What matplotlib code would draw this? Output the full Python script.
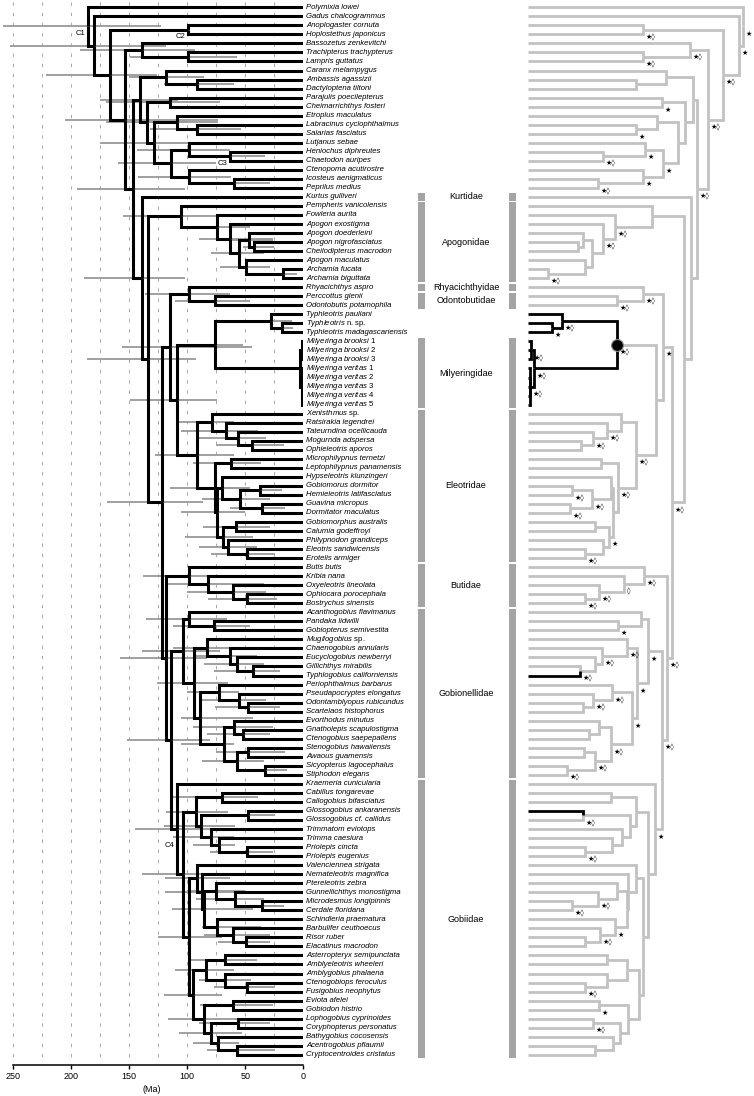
import matplotlib
matplotlib.use("Agg")
import matplotlib.pyplot as plt
from matplotlib.transforms import offset_copy

plt.rcParams["font.family"] = ["Liberation Sans", "DejaVu Sans"]
plt.rcParams["mathtext.fontset"] = "custom"
plt.rcParams["mathtext.it"] = "Liberation Sans:italic"
plt.rcParams["mathtext.rm"] = "Liberation Sans"

# ---------------------------------------------------------------- data
TAXA = [
    "Polymixia lowei", "Gadus chalcogrammus", "Anoplogaster cornuta", "Hoplostethus japonicus",
    "Bassozetus zenkevitchi", "Trachipterus trachypterus", "Lampris guttatus", "Caranx melampygus",
    "Ambassis agassizii", "Dactyloptena tiltoni", "Parajulis poecilepterus", "Cheimarrichthys fosteri",
    "Etroplus maculatus", "Labracinus cyclophthalmus", "Salarias fasciatus", "Lutjanus sebae",
    "Heniochus diphreutes", "Chaetodon auripes", "Ctenopoma acutirostre", "Icosteus aenigmaticus",
    "Peprilus medius", "Kurtus gulliveri", "Pempheris vanicolensis", "Fowleria aurita",
    "Apogon exostigma", "Apogon doederleini", "Apogon nigrofasciatus", "Cheilodipterus macrodon",
    "Apogon maculatus", "Archamia fucata", "Archamia biguttata", "Rhyacichthys aspro",
    "Perccottus glenii", "Odontobutis potamophila", "Typhleotris pauliani", "Typhleotris n. sp.",
    "Typhleotris madagascariensis", "Milyeringa brooksi 1", "Milyeringa brooksi 2", "Milyeringa brooksi 3",
    "Milyeringa veritas 1", "Milyeringa veritas 2", "Milyeringa veritas 3", "Milyeringa veritas 4",
    "Milyeringa veritas 5", "Xenisthmus sp.", "Ratsirakia legendrei", "Tateurndina ocellicauda",
    "Mogurnda adspersa", "Ophieleotris aporos", "Microphilypnus ternetzi", "Leptophilypnus panamensis",
    "Hypseleotris klunzingeri", "Gobiomorus dormitor", "Hemieleotris latifasciatus", "Guavina micropus",
    "Dormitator maculatus", "Gobiomorphus australis", "Calumia godeffroyi", "Philypnodon grandiceps",
    "Eleotris sandwicensis", "Erotelis armiger", "Butis butis", "Kribia nana",
    "Oxyeleotris lineolata", "Ophiocara porocephala", "Bostrychus sinensis", "Acanthogobius flavimanus",
    "Pandaka lidwilli", "Gobiopterus semivestita", "Mugilogobius sp.", "Chaenogobius annularis",
    "Eucyclogobius newberryi", "Gillichthys mirabilis", "Typhlogobius californiensis", "Periophthalmus barbarus",
    "Pseudapocryptes elongatus", "Odontamblyopus rubicundus", "Scartelaos histophorus", "Evorthodus minutus",
    "Gnatholepis scapulostigma", "Ctenogobius saepepallens", "Stenogobius hawaiiensis", "Awaous guamensis",
    "Sicyopterus lagocephalus", "Stiphodon elegans", "Kraemeria cunicularia", "Cabillus tongarevae",
    "Callogobius bifasciatus", "Glossogobius ankaranensis", "Glossogobius cf. callidus", "Trimmatom eviotops",
    "Trimma caesiura", "Priolepis cincta", "Priolepis eugenius", "Valenciennea strigata",
    "Nemateleotris magnifica", "Ptereleotris zebra", "Gunnellichthys monostigma", "Microdesmus longipinnis",
    "Cerdale floridana", "Schindleria praematura", "Barbulifer ceuthoecus", "Risor ruber",
    "Elacatinus macrodon", "Asterropteryx semipunctata", "Amblyeleotris wheeleri", "Amblygobius phalaena",
    "Ctenogobiops feroculus", "Fusigobius neophytus", "Eviota afelei", "Gobiodon histrio",
    "Lophogobius cyprinoides", "Coryphopterus personatus", "Bathygobius cocosensis", "Acentrogobius pflaumii",
    "Cryptocentroides cristatus",
]
UPRIGHT_WORDS = ["n.", "sp.", "1", "2", "3", "4", "5"]

# chronogram: tips are TAXA indices, internal node label = age|HPD old|HPD young|calibration
L_F = ("((7,(8,9)91.7|120|60)118.1|150|85,((10,11)114.5|170|72,((12,(13,14)91.7|132|54)108.9|129|73,"
       "((15,(16,17)63.1|80|33|C3)98.3|143|63,(18,(19,20)59.4|75|29)98.3|142|62)114.1|159|75)128.4|175|63)"
       "134.7|170|100)140.5|175|108")
L_APOG = ("(22,(23,(24,((25,(26,27)42.4|52|25)46.4|62|26,(28,(29,30)17.2|20|5)49.3|72|29)55|79|34)"
          "63.1|90|26)74.5|100|46)105.2|155|63")
L_TM = "((34,(35,36)18.6|23|9)28|35|10,((37,38,39)1.0,(40,41,42,43,44)1.2)3.0)76|100|52"
L_ELEO = ("((45,(46,(47,(48,49)44.4|75|17)55.9|90|32)66.5|105|39)78.8|108|60,((50,51)62.5|95|36,"
          "((52,((53,54)37.2|55|18,(55,56)35.8|63|16)54.5|87|29)69.7|95|48,((57,58)57.9|86|29,"
          "(59,(60,61)48.7|79|24)64.5|90|40)69.3|102|43)74|105|50)76|115|46)91.7|128|60")
L_BUT = "(62,(63,(64,(65,66)48.2|82|23)60.2|100|32)81.7|118|34)98.3|138|66"
L_GOBIONELL = ("((67,(68,69)76.6|112|46)98.3|135|66,((70,(71,(72,(73,74)43.1|77|20)56.8|85|34)63.1|92|40)"
               "83.1|112|60,((75,(76,(77,78)47.3|76|20)55|89|32)72.3|100|55,((79,(80,81)51.6|83|29)"
               "59.4|95|26,((82,83)47.3|75|16,(84,85)32.9|45|14)56.8|87|34)68.2|105|60)88.9|105|43)"
               "93.7|126|65)103.2|139|72")
L_CAB = ("((87,88)70.2|115|39,((89,90)47.3|60|24,(91,(92,(93,94)48.7|80|26)72.3|95|59)79.7|112|60)"
         "88|120|59)92.3|118|65")
L_VAL = ("(95,(96,((97,(98,(99,100)35.8|50|17)58.8|92|34)75.1|100|50,(101,(102,(103,104)49.3|73|29)"
         "60.7|85|29)74.5|87|36)85.4|113|43)87|119|60)91.2|119|63")
L_AST = ("(((105,106)67.4|98|40,(107,(108,109)48.7|77|24)67.4|90|45)84|110|60,((110,111)60.2|89|26,"
         "((112,113)55.9|90|29,(114,(115,116)57.3|83|24)73.1|95|55)79.7|107|53)85.4|116|57)95.2|120|70")
L_GOBIIDAE = "(86,(" + L_CAB + ",(" + L_VAL + "," + L_AST + ")98.3|125|70)103.8|139|60)108.9|145|60|C4"
L_H = ("(((31,(32,33)76|110|46)98.3|136|63,(" + L_TM + "," + L_ELEO + ")108.9|149|74)114.7|156|44,("
       + L_BUT + ",(" + L_GOBIONELL + "," + L_GOBIIDAE + ")114.1|152|80)118.1|158|83)121.8|169|86")
L_K = "(21,(" + L_APOG + "," + L_H + ")133.3|186|92)139|189|102"
LEFT_TREE = ("(0,(1,((2,3)98.9|||C2,((4,(5,6)98.9|149|57)139|192|93,(" + L_F + "," + L_K +
             ")146.2|195|102)153.3|205|73)166.3|221|126)180|252|118)185|258|122|C1")

# cladogram: internal node label = relative depth|support|style  (b = cave lineage, dot = marked node)
R_F = ("((7,(8,9)108)138,((10,11)134|★,((12,(13,14)108|★)129,((15,(16,17)75|★◊)117|★,"
       "(18,(19,20)70|★◊)115|★)135|★)150)157)165")
R_APOG = "(22,(23,(24,((25,(26,27)50)55,(28,(29,30)20|★◊)57)64)75|★◊)87|★◊)124"
R_TM = "((34,(35,36)24|★)34|★◊|b,((37,38,39)3|★◊,(40,41,42,43,44)2|★◊)6|★◊|b)89|★◊|dot"
R_ELEO = ("((45,(46,(47,(48,49)53)65|★◊)79|★◊)93,((50,51)73,((52,((53,54)44|★◊,(55,56)42|★◊)64|★◊)83,"
          "((57,58)67,(59,(60,61)57|★◊)75)81|★)85)90|★◊)108|★◊")
R_BUT = "(62,(63,(64,(65,66)57|★◊)71|★◊)96|◊)116|★◊"
R_GOBIONELL = ("((67,(68,69)90|★)113,((70,(71,(72,(73,74|b)52|★◊)67)74|★◊)99|★◊,((75,(76,(77,78)55)"
               "65|★◊)84|★◊,((79,(80,81)61)71,((82,83)56,(84,85)39|★◊)67|★◊)83|★◊)104|★)109|★)120|★")
R_CAB = "((87,88)83,((89|b,90)55|★◊,(91,(92,(93,94)57|★◊)84)94)102)108"
R_VAL = "(95,(96,((97,(98,(99,100)44|★◊)70|★◊)89,(101,(102,(103,104)57)72|★◊)87|★)99)100)108"
R_AST = "(((105,106)79,(107,(108,109)57|★◊)79)99,((110,111)71|★,((112,113)65|★◊,(114,(115,116)67)85)92)100)111"
R_GOBIIDAE = "(86,(" + R_CAB + ",(" + R_VAL + "," + R_AST + ")115)120)127|★"
R_H = ("(((31,(32,33)89|★◊)115|★◊,(" + R_TM + "," + R_ELEO + ")128)135|★,(" + R_BUT + ",(" +
       R_GOBIONELL + "," + R_GOBIIDAE + ")134|★◊)139|★◊)144|★◊")
R_K = "(21,(" + R_APOG + "," + R_H + ")156)163"
RIGHT_TREE = ("(0,(1,((2,3)115|★◊,((4,(5,6)115|★◊)162|★◊,(" + R_F + "," + R_K +
              ")169|★◊)180|★◊)195|★◊)211|★)215|★")

FAMILIES = [("Kurtidae", 21, 21), ("Apogonidae", 22, 30), ("Rhyacichthyidae", 31, 31),
            ("Odontobutidae", 32, 33), ("Milyeringidae", 37, 44), ("Eleotridae", 45, 61),
            ("Butidae", 62, 66), ("Gobionellidae", 67, 85), ("Gobiidae", 86, 116)]
AGE_TICKS = [250, 200, 150, 100, 50, 0]
GRID_AGES = [250, 225, 200, 175, 150, 125, 100, 75, 50, 25]


# ---------------------------------------------------------------- helpers
def parse(s):
    pos = 0

    def label():
        nonlocal pos
        start = pos
        while pos < len(s) and s[pos] not in ",)":
            pos += 1
        return s[start:pos].split("|")

    def node():
        nonlocal pos
        if s[pos] == "(":
            pos += 1
            kids = [node()]
            while s[pos] == ",":
                pos += 1
                kids.append(node())
            pos += 1
            return {"kids": kids, "lab": label()}
        lab = label()
        return {"tip": int(lab[0]), "lab": lab}
    return node()


def layout(n):
    if "tip" in n:
        n["y"], n["x"] = float(n["tip"]), 0.0
    else:
        for k in n["kids"]:
            layout(k)
        n["y"] = (n["kids"][0]["y"] + n["kids"][-1]["y"]) / 2
        n["x"] = float(n["lab"][0])


def internal(n):
    if "kids" in n:
        yield n
        for k in n["kids"]:
            yield from internal(k)


def draw_tree(ax, root, color_of, lw):
    def rec(n, inherited):
        for k in n.get("kids", []):
            black = inherited or ("b" in k["lab"][1:])
            ax.plot([n["x"], n["x"], k["x"]], [n["y"], k["y"], k["y"]], color=color_of(black), lw=lw,
                    solid_joinstyle="miter", solid_capstyle="butt", zorder=3 if black else 2)
            rec(k, black)
    rec(root, False)


def pretty(name):
    words = name.split()
    if not any(w in UPRIGHT_WORDS for w in words):
        return name, "italic"
    parts = [w if w in UPRIGHT_WORDS else r"$\mathit{%s}$" % w for w in words]
    return " ".join(parts), "normal"


# ---------------------------------------------------------------- figure
W, H = 754, 1096
ROW0, ROWH, AXIS_PX = 7.3, 9.03, 1065
X0_PX, XZERO_PX, PX_PER_MA = 12.7, 303.3, 1.1625
fig = plt.figure(figsize=(W / 100, H / 100), dpi=100)


def add_ax(x0, x1):
    ax = fig.add_axes([x0 / W, (H - AXIS_PX) / H, (x1 - x0) / W, AXIS_PX / H])
    ax.set_ylim((AXIS_PX - ROW0) / ROWH, -ROW0 / ROWH)
    ax.patch.set_visible(False)
    for sp in ax.spines.values():
        sp.set_visible(False)
    ax.set_yticks([])
    return ax


axL = add_ax(0, XZERO_PX)
axL.set_xlim(AGE_TICKS[0] + X0_PX / PX_PER_MA, 0)
axF = add_ax(400, 528)
axF.set_xlim(0, 128)
axF.set_xticks([])
axR = add_ax(528, W)
axR.set_xlim(0, W - 528)
axR.set_xticks([])

# --- left chronogram
left = parse(LEFT_TREE)
layout(left)
n_tax = len(TAXA)
for a in GRID_AGES:
    axL.plot([a, a], [-0.6, n_tax - 0.7], color="#a8a8a8", lw=0.7, dashes=(3.5, 7), zorder=0)
for n in internal(left):
    lab = n["lab"]
    if len(lab) > 2 and lab[1] and lab[2]:
        axL.plot([float(lab[1]), float(lab[2])], [n["y"], n["y"]], color="#9c9c9c", lw=1.35,
                 solid_capstyle="butt", zorder=1, clip_on=False)
    if len(lab) > 3 and lab[3]:
        dy = -16 if lab[3] == "C4" else -7
        tr = offset_copy(axL.transData, fig=fig, x=-2.5, y=dy, units="dots")
        axL.text(n["x"], n["y"], lab[3], transform=tr, ha="right", va="center", fontsize=5.5)
draw_tree(axL, left, lambda b: "black", 2.2)

tr_lab = offset_copy(axL.transData, fig=fig, x=2.7, y=0, units="dots")
for i, name in enumerate(TAXA):
    txt, style = pretty(name)
    axL.text(0, i, txt, transform=tr_lab, fontsize=5.6, style=style, ha="left", va="center",
             clip_on=False)

axL.spines["bottom"].set_visible(True)
axL.spines["bottom"].set_bounds(0, AGE_TICKS[0])
axL.spines["bottom"].set_linewidth(1.1)
axL.set_xticks(AGE_TICKS)
axL.set_xticklabels([str(t) for t in AGE_TICKS])
axL.tick_params(axis="x", direction="out", length=3, width=1.0, labelsize=6.5, pad=2)
axL.set_xlabel("(Ma)", fontsize=6.5, labelpad=3)

# --- family bars
for name, a, b in FAMILIES:
    for xc in (21.5, 112.5):
        axF.bar(xc, (b - a) + 0.8, bottom=a - 0.4, width=7, color="#a4a4a4", linewidth=0)
    axF.text(66, (a + b) / 2, name, ha="center", va="center", fontsize=6.5)

# --- right cladogram
right = parse(RIGHT_TREE)
layout(right)
draw_tree(axR, right, lambda b: "black" if b else "#c2c2c2", 2.0)
tr_sup = offset_copy(axR.transData, fig=fig, x=2.5, y=-7.5, units="dots")
for n in internal(right):
    lab = n["lab"]
    if len(lab) > 1 and lab[1]:
        axR.text(n["x"], n["y"], lab[1], transform=tr_sup, fontsize=5, ha="left", va="center",
                 family=["DejaVu Sans"], zorder=5)
    if "dot" in lab[2:]:
        axR.plot(n["x"], n["y"], "o", ms=8.5, color="black", mec="#888888", mew=0.8, zorder=6)

fig.savefig("out.png", dpi=100)
